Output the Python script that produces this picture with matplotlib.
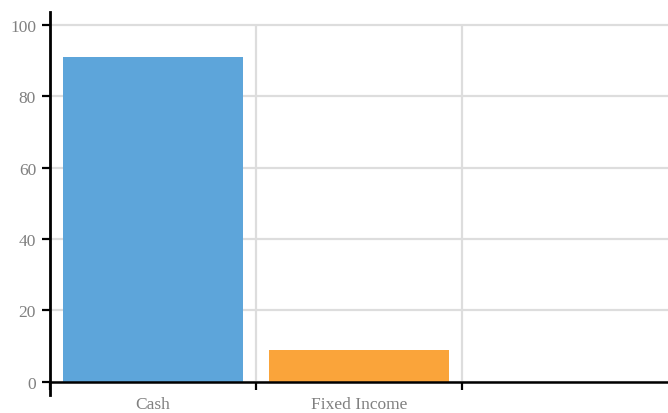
import matplotlib
matplotlib.use('Agg')
import matplotlib.pyplot as plt
import numpy as np

# dados do gráfico
categories = ['Cash', 'Fixed Income']
values = [91, 9]
colors = ['#5DA5DA', '#FAA43A']
yticks = [0, 20, 40, 60, 80, 100]
n_slots = 3

plt.rcParams['font.family'] = ['Liberation Serif', 'DejaVu Serif']

fig = plt.figure(figsize=(6.68, 4.14), dpi=100)
ax = fig.add_axes([50 / 668, 1 - 396 / 414, 1 - 50 / 668, (396 - 13) / 414])

x = np.arange(len(categories)) + 0.5
ax.bar(x, values, width=180 / 206, color=colors, zorder=3)

# grade
ax.hlines(yticks, 0, n_slots, color='#dddddd', linewidth=1.6, zorder=1)
ax.vlines(np.arange(1, n_slots), 0, max(yticks), color='#dddddd', linewidth=1.6, zorder=1)

ax.set_xlim(0, n_slots)
ax.set_ylim(-3.72, 103.6)

ax.set_yticks(yticks)
ax.set_xticks(np.arange(0, n_slots))
ax.set_xticklabels([''] * n_slots)
ax.set_xticks(x, minor=True)
ax.set_xticklabels(categories, minor=True)

for s in ['top', 'right']:
    ax.spines[s].set_visible(False)
ax.spines['bottom'].set_position(('data', 0))
ax.spines['left'].set_linewidth(2)
ax.spines['bottom'].set_linewidth(1.8)
ax.spines['left'].set_zorder(5)
ax.spines['bottom'].set_zorder(5)

ax.tick_params(axis='y', length=6, width=1.6, pad=4, labelsize=12.5, labelcolor='#808080', color='black')
ax.tick_params(axis='x', which='major', length=6, width=1.6, color='black')
ax.tick_params(axis='x', which='minor', length=0, pad=10, labelsize=12.5, labelcolor='#808080')

fig.savefig('out.png', dpi=100)
